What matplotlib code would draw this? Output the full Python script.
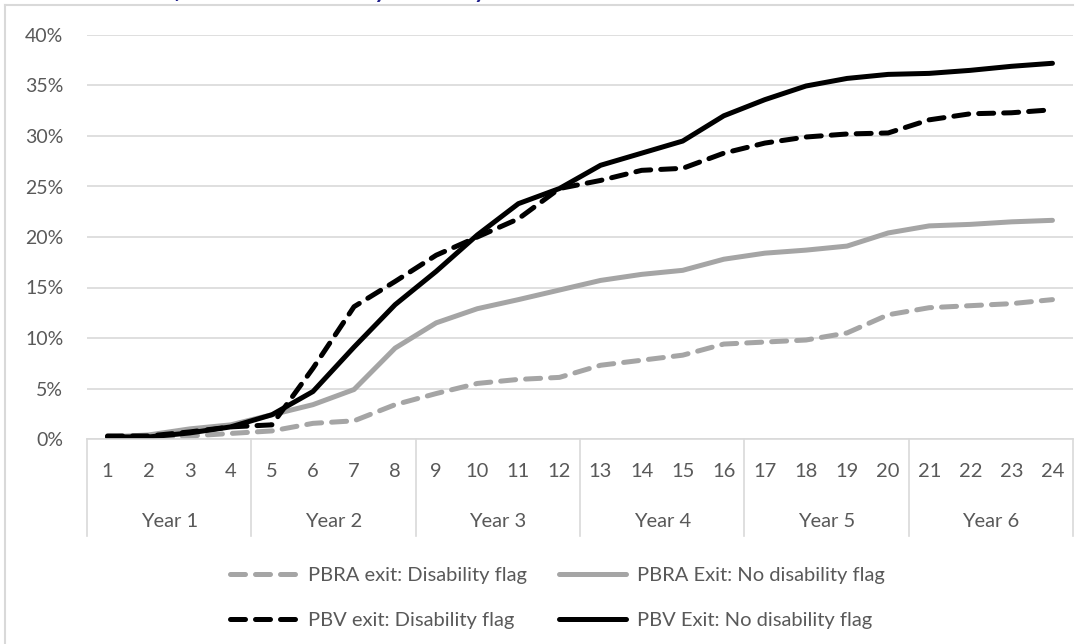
import matplotlib
matplotlib.use('Agg')
import matplotlib.pyplot as plt
import matplotlib.transforms as mtransforms
from matplotlib.lines import Line2D

plt.rcParams['font.family'] = ['Lato', 'DejaVu Sans']

# data (percent of households exited)
months = list(range(1, 25))
years = ['Year 1', 'Year 2', 'Year 3', 'Year 4', 'Year 5', 'Year 6']
pbra_dis = [0.1, 0.1, 0.3, 0.55, 0.8, 1.55, 1.8, 3.4, 4.5, 5.5, 5.9, 6.1,
            7.3, 7.8, 8.3, 9.4, 9.6, 9.8, 10.5, 12.3, 13.0, 13.2, 13.4, 13.8]
pbra_nodis = [0.2, 0.4, 1.0, 1.4, 2.4, 3.4, 4.9, 9.0, 11.5, 12.9, 13.8, 14.75,
              15.7, 16.3, 16.7, 17.8, 18.4, 18.7, 19.1, 20.4, 21.1, 21.25, 21.5, 21.65]
pbv_dis = [0.3, 0.3, 0.7, 1.2, 1.4, 7.0, 13.1, 15.6, 18.2, 20.0, 21.8, 24.8,
           25.6, 26.6, 26.8, 28.3, 29.3, 29.9, 30.2, 30.3, 31.6, 32.2, 32.3, 32.6]
pbv_nodis = [0.2, 0.2, 0.6, 1.2, 2.4, 4.7, 9.1, 13.3, 16.6, 20.2, 23.3, 24.8,
             27.1, 28.3, 29.5, 32.0, 33.6, 34.95, 35.7, 36.1, 36.2, 36.5, 36.9, 37.2]
labels = ['PBRA exit: Disability flag', 'PBRA Exit: No disability flag',
          'PBV exit: Disability flag', 'PBV Exit: No disability flag']

W, H = 1090, 644
txt = '#595959'
grid = '#D9D9D9'
gray = '#A5A5A5'

fig = plt.figure(figsize=(W / 100, H / 100), dpi=100)
ax = fig.add_axes([87 / W, 205 / H, 986 / W, 404 / H])

lw = 3.6
dash = (3.0, 2.0)
l1, = ax.plot(months, pbra_dis, color=gray, lw=lw, dashes=dash, dash_capstyle='round', solid_capstyle='round')
l2, = ax.plot(months, pbra_nodis, color=gray, lw=lw, solid_capstyle='round')
l3, = ax.plot(months, pbv_dis, color='black', lw=lw, dashes=dash, dash_capstyle='round')
l4, = ax.plot(months, pbv_nodis, color='black', lw=lw, solid_capstyle='round')

ax.set_xlim(0.5, 24.5)
ax.set_ylim(0, 40)
ax.set_yticks(range(0, 41, 5))
ax.set_yticklabels(['%d%%' % v for v in range(0, 41, 5)])
ax.set_xticks(months)
ax.set_xticklabels([str(m) for m in months])
ax.tick_params(axis='y', length=0, pad=17, labelsize=14, labelcolor=txt)
ax.tick_params(axis='x', length=0, pad=17, labelsize=14.5, labelcolor=txt)
ax.grid(axis='y', color=grid, lw=1.2)
ax.set_axisbelow(True)
for s in ['top', 'right', 'left']:
    ax.spines[s].set_visible(False)
ax.spines['bottom'].set_color(grid)
ax.spines['bottom'].set_linewidth(1.2)

# second level of the category axis
tr = mtransforms.blended_transform_factory(ax.transData, ax.transAxes)
for i, yr in enumerate(years):
    ax.text(4 * i + 2.5, -0.203, yr, transform=tr, ha='center', va='center',
            fontsize=14.5, color=txt)
for i in range(7):
    ax.add_line(Line2D([4 * i + 0.5, 4 * i + 0.5], [0, -0.24], transform=tr,
                       color=grid, lw=1.2, clip_on=False))

leg = fig.legend([l1, l3, l2, l4], [labels[0], labels[2], labels[1], labels[3]],
                 ncol=2, loc='center', bbox_to_anchor=(0.5115, 0.0714),
                 frameon=False, fontsize=14.5, handlelength=3.3, handletextpad=0.55,
                 columnspacing=1.6, labelspacing=1.4)
for t in leg.get_texts():
    t.set_color(txt)

# chart frame and the title, which the reference shows cut off at the top edge
fig.add_artist(Line2D([5 / W, 5 / W], [0, 1 - 5 / H], color=grid, lw=1.5))
fig.add_artist(Line2D([5 / W, 1073 / W], [1 - 5 / H, 1 - 5 / H], color=grid, lw=1.5))
fig.text(70 / W, 1 + 1.5 / H, 'Exit Rates for PBRA and PBV by Disability Status',
         fontsize=17, fontweight='bold', fontstyle='italic', color='#1F1F8C',
         va='baseline', ha='left')

fig.savefig('out.png', dpi=100)
